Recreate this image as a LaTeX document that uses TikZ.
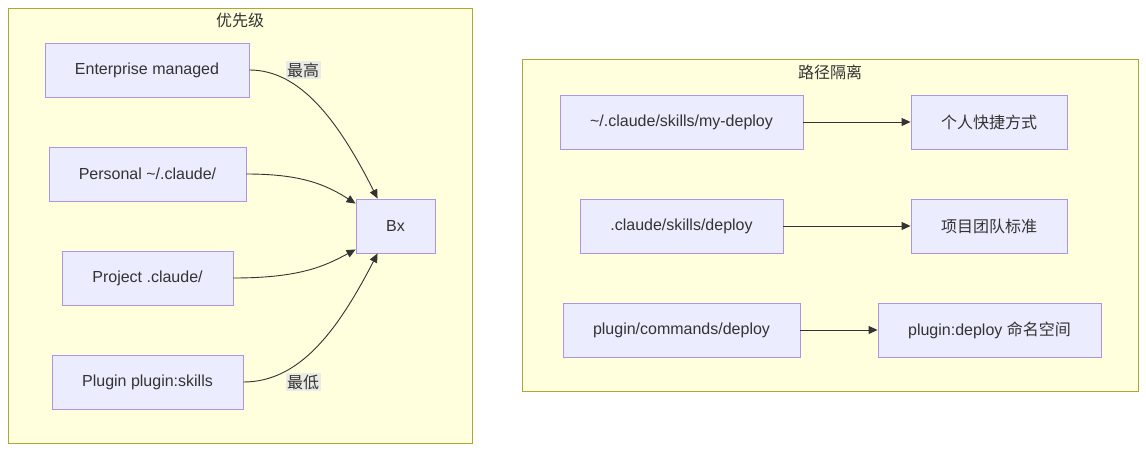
\documentclass[tikz,border=0pt]{standalone}
\usepackage{fontspec}
\setmainfont{Liberation Sans}
\newfontfamily\cjk{Noto Sans CJK SC}
\usetikzlibrary{arrows.meta}
\definecolor{clusterfill}{HTML}{FFFFDE}
\definecolor{clusterstroke}{HTML}{AAAA33}
\definecolor{nodefill}{HTML}{ECECFF}
\definecolor{nodestroke}{HTML}{9370DB}
\definecolor{edgec}{HTML}{333333}
\definecolor{textc}{HTML}{333333}
\definecolor{labelbg}{HTML}{E8E8E8}
\tikzset{
  cluster/.style={draw=clusterstroke, fill=clusterfill, line width=0.9pt},
  ctitle/.style={text=textc, inner sep=0pt, font=\fontsize{16}{19}\selectfont\cjk},
  box/.style={draw=nodestroke!75!white, fill=nodefill, line width=0.9pt, minimum height=54pt, inner sep=0pt, text=textc, font=\fontsize{16}{19}\selectfont},
  edge/.style={draw=edgec, line width=0.9pt, -{Triangle[length=9pt,width=8pt]}},
  elabel/.style={fill=labelbg, fill opacity=0.85, text opacity=1, text=textc, inner sep=1.5pt, font=\fontsize{16}{19}\selectfont\cjk}
}
\begin{document}
\begin{tikzpicture}[x=1pt,y=-1pt]
\useasboundingbox[fill=white] (0,0) rectangle (1146,452);
% clusters
\draw[cluster] (8,8) rectangle (472,443);
\node[ctitle] (title1) at (240,20) {优先级};
\draw[cluster] (522,59) rectangle (1138,391);
\node[ctitle] (title2) at (830,72) {路径隔离};
% left nodes
\node[box, minimum width=204pt] (ent) at (147,70) {Enterprise managed};
\node[box, minimum width=197pt] (per) at (147.5,174) {Personal \textasciitilde/.claude/};
\node[box, minimum width=171pt] (proj) at (147.5,278) {Project .claude/};
\node[box, minimum width=191pt] (plug) at (147.5,382) {Plugin plugin:skills};
\node[box, minimum width=79pt] (bx) at (395.5,226) {Bx};
% left edges
\draw[edge] (ent.east) .. controls (300,70) and (338,120) .. ([xshift=22pt]bx.north west);
\draw[edge] (per.east) .. controls (300,174) and (325,184) .. ([yshift=-5pt]bx.north west);
\draw[edge] (proj.east) .. controls (300,278) and (325,266) .. ([yshift=4pt]bx.south west);
\draw[edge] (plug.east) .. controls (300,382) and (338,330) .. ([xshift=22pt]bx.south west);
\node[elabel] (lab1) at (303,70) {最高};
\node[elabel] (lab2) at (303,382) {最低};
% right nodes
\node[box, minimum width=243pt] (r1) at (681.5,122) {\textasciitilde/.claude/skills/my-deploy};
\node[box, minimum width=156pt, font=\fontsize{16}{19}\selectfont\cjk] (t1) at (989,122) {个人快捷方式};
\node[box, minimum width=203pt] (r2) at (681.5,226) {.claude/skills/deploy};
\node[box, minimum width=156pt, font=\fontsize{16}{19}\selectfont\cjk] (t2) at (989,226) {项目团队标准};
\node[box, minimum width=237pt] (r3) at (681.5,330) {plugin/commands/deploy};
\node[box, minimum width=223pt] (t3) at (989.5,330) {plugin:deploy {\cjk 命名空间}};
% right edges
\draw[edge] (r1) -- (t1);
\draw[edge] (r2) -- (t2);
\draw[edge] (r3) -- (t3);
\end{tikzpicture}
\end{document}
